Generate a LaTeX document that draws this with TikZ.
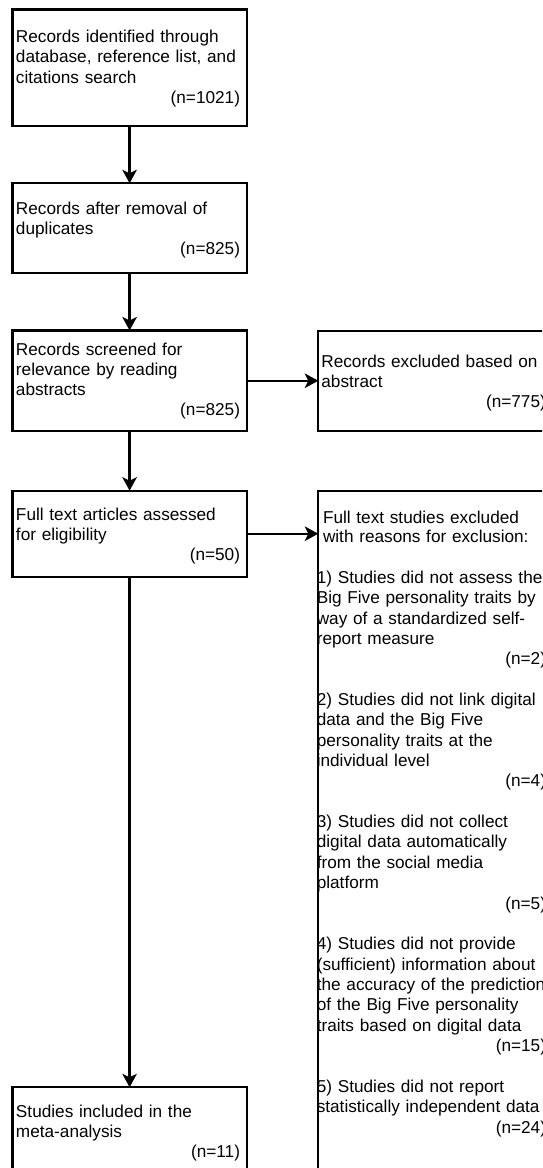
\documentclass[tikz,border=0pt]{standalone}
\usepackage{fontspec}
\setmainfont{Liberation Sans}
\usetikzlibrary{arrows.meta}

\tikzset{
  box/.style={draw, line width=2.3pt, rectangle, inner sep=0pt, outer sep=0pt,
    minimum width=234.2pt},
  flow/.style={line width=2.3pt, -{Stealth[length=13.5pt, width=14.5pt, inset=3.5pt]}},
  txt/.style={anchor=north west, inner sep=0pt, outer sep=0pt, align=left,
    font=\fontsize{17.2pt}{20.2pt}\selectfont},
  reasons/.style={txt, font=\fontsize{17.2pt}{20.36pt}\selectfont},
  header/.style={txt, font=\fontsize{17.2pt}{19pt}\selectfont}
}
% strut that fixes the top of each text block 15pt above its first baseline
\newcommand\lineone{\rule{0pt}{15pt}}
% right-aligned record count on its own line
\newcommand\reccount[1]{\mbox{}\hfill(n=#1)}

\begin{document}
\begin{tikzpicture}[x=1pt, y=-1pt]
  \useasboundingbox (0,0) rectangle (542,1168);
  \clip (0,0) rectangle (542,1168);

  % texts of the left column
  \node[txt, text width=224pt] (t1) at (16,42.7-15)
    {\lineone Records identified through\\database, reference list, and\\citations search\\\reccount{1021}};
  \node[txt, text width=224pt] (t2) at (16,214.5-15)
    {\lineone Records after removal of\\duplicates\\\reccount{825}};
  \node[txt, text width=224pt] (t3) at (16,355.3-15)
    {\lineone Records screened for\\relevance by reading\\abstracts\\\reccount{825}};
  \node[txt, text width=224pt] (t4) at (16,520-15)
    {\lineone Full text articles assessed\\for eligibility\\\reccount{50}};
  \node[txt, text width=224pt] (t5) at (16,1117.5-15)
    {\lineone Studies included in the\\meta-analysis\\\reccount{11}};

  % texts of the right column
  \node[txt, text width=224.4pt] (t6) at (321.4,367.5-15)
    {\lineone Records excluded based on\\abstract\\\reccount{775}};
  \node[header, text width=224pt] (t7) at (323,523.3-15)
    {\lineone Full text studies excluded\\with reasons for exclusion:};
  \node[reasons, text width=229.2pt] (t8) at (316.8,583.3-15)
    {\lineone 1) Studies did not assess the\\Big Five personality traits by\\way of a standardized self-\\report measure\\\reccount{2}\\\mbox{}\\
     2) Studies did not link digital\\data and the Big Five\\personality traits at the\\individual level\\\reccount{4}\\\mbox{}\\
     3) Studies did not collect\\digital data automatically\\from the social media\\platform\\\reccount{5}\\\mbox{}\\
     4) Studies did not provide\\(sufficient) information about\\the accuracy of the prediction\\of the Big Five personality\\traits based on digital data\\\reccount{15}\\\mbox{}\\
     5) Studies did not report\\statistically independent data\\\reccount{24}};

  % boxes
  \node[box, minimum height=116.5pt] (b1) at (129.6,67.75) {};
  \node[box, minimum height=89.4pt]  (b2) at (129.6,228) {};
  \node[box, minimum height=100.5pt] (b3) at (129.6,380.75) {};
  \node[box, minimum height=86pt]    (b4) at (129.6,533.7) {};
  \node[box, minimum height=89.4pt]  (b5) at (129.6,1132) {};
  \node[box, minimum height=100.3pt] (r1) at (435.4,380.85) {};
  \node[box, minimum height=699.3pt] (r2) at (435.4,840.35) {};

  % connectors
  \draw[flow] (b1.south) -- (b2.north);
  \draw[flow] (b2.south) -- (b3.north);
  \draw[flow] (b3.south) -- (b4.north);
  \draw[flow] (b4.south) -- (b5.north);
  \draw[flow] (b3.east) -- (b3.east -| r1.west);
  \draw[flow] (b4.east) -- (b4.east -| r2.west);
\end{tikzpicture}
\end{document}
